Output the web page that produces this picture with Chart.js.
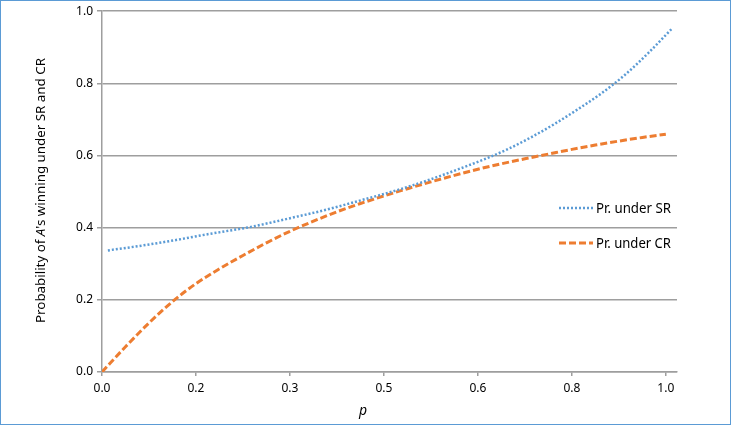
<!DOCTYPE html>
<html>
<head>
<meta charset="utf-8">
<script src="https://cdn.jsdelivr.net/npm/chart.js@4"></script>
<style>
  html, body { margin: 0; padding: 0; background: #fff; }
  canvas { display: block; }
</style>
</head>
<body>
<canvas id="grafico" width="731" height="425"></canvas>
<script>
// valores
const pCR = [0, 0.04, 0.08, 0.12, 0.16, 0.20, 0.24, 0.28, 0.32, 0.36, 0.40, 0.44, 0.48,
  0.52, 0.56, 0.60, 0.64, 0.68, 0.72, 0.76, 0.80, 0.84, 0.88, 0.92, 0.96];
const prCR = [0, 0.070, 0.136, 0.195, 0.245, 0.286, 0.323, 0.358, 0.390, 0.418, 0.444, 0.467, 0.488,
  0.508, 0.527, 0.545, 0.562, 0.577, 0.591, 0.604, 0.617, 0.629, 0.640, 0.650, 0.659];

const pSR = [0.01, 0.05, 0.09, 0.13, 0.17, 0.21, 0.25, 0.29, 0.33, 0.37, 0.41, 0.45, 0.49,
  0.53, 0.57, 0.61, 0.65, 0.69, 0.73, 0.77, 0.81, 0.85, 0.89, 0.93, 0.97];
const prSR = [0.337, 0.346, 0.356, 0.367, 0.379, 0.390, 0.401, 0.415, 0.430, 0.445, 0.462, 0.480, 0.498,
  0.518, 0.540, 0.564, 0.589, 0.617, 0.650, 0.687, 0.728, 0.772, 0.823, 0.884, 0.951];

const xTickValues = [0, 0.16, 0.32, 0.48, 0.64, 0.80, 0.96];
const xTickLabels = ['0.0', '0.2', '0.3', '0.5', '0.6', '0.8', '1.0'];

const seriesNames = ['Pr. under SR', 'Pr. under CR'];
const corAzul = '#5b9bd5';
const corLaranja = '#ed7d31';
const corGrade = '#9e9e9e';
const fonte = "'Noto Sans', 'DejaVu Sans', sans-serif";

// desenha texto comprimido horizontalmente até a largura pedida
function textoAjustado(ctx, partes, x, y, largura, align) {
  let total = 0;
  partes.forEach(p => { ctx.font = p.font; total += ctx.measureText(p.t).width; });
  const s = largura / total;
  ctx.save();
  ctx.translate(x, y);
  ctx.scale(s, 1);
  let cx = align === 'center' ? -total / 2 : 0;
  partes.forEach(p => {
    ctx.font = p.font;
    ctx.fillText(p.t, cx, 0);
    cx += ctx.measureText(p.t).width;
  });
  ctx.restore();
}

const extras = {
  id: 'extras',
  afterDraw(chart) {
    const ctx = chart.ctx;
    ctx.save();
    ctx.fillStyle = '#000';
    ctx.textBaseline = 'alphabetic';

    // título do eixo y
    ctx.save();
    ctx.translate(45, 190.5);
    ctx.rotate(-Math.PI / 2);
    textoAjustado(ctx, [
      { t: 'Probability of ', font: '13px ' + fonte },
      { t: 'A', font: 'italic 13px ' + fonte },
      { t: "'s winning under SR and CR", font: '13px ' + fonte }
    ], 0, 0, 265, 'center');
    ctx.restore();

    // título do eixo x
    ctx.font = 'italic 14px ' + fonte;
    ctx.textAlign = 'center';
    ctx.fillText('p', 363, 415);
    ctx.textAlign = 'left';

    // legenda
    const itens = [
      { nome: seriesNames[0], cor: corAzul, dash: [2, 2], w: 2.5, y: 208 },
      { nome: seriesNames[1], cor: corLaranja, dash: [7, 3], w: 3, y: 243 }
    ];
    itens.forEach(it => {
      ctx.save();
      ctx.strokeStyle = it.cor;
      ctx.lineWidth = it.w;
      ctx.setLineDash(it.dash);
      ctx.beginPath();
      ctx.moveTo(559, it.y);
      ctx.lineTo(593, it.y);
      ctx.stroke();
      ctx.restore();
      textoAjustado(ctx, [{ t: it.nome, font: '14px ' + fonte }], 596, it.y + 5, 75, 'left');
    });

    // moldura
    ctx.strokeStyle = corAzul;
    ctx.lineWidth = 1;
    ctx.strokeRect(0.5, 0.5, 730, 424);
    ctx.restore();
  }
};

const ctx = document.getElementById('grafico').getContext('2d');

new Chart(ctx, {
  type: 'line',
  data: {
    datasets: [
      {
        label: seriesNames[0],
        data: pSR.map((p, i) => ({ x: p, y: prSR[i] })),
        borderColor: corAzul,
        borderWidth: 2.5,
        borderDash: [2, 2],
        pointRadius: 0,
        cubicInterpolationMode: 'monotone',
        fill: false
      },
      {
        label: seriesNames[1],
        data: pCR.map((p, i) => ({ x: p, y: prCR[i] })),
        borderColor: corLaranja,
        borderWidth: 3,
        borderDash: [7, 3],
        pointRadius: 0,
        cubicInterpolationMode: 'monotone',
        fill: false
      }
    ]
  },
  options: {
    responsive: false,
    animation: false,
    layout: { padding: { top: 10, right: 54, left: 0, bottom: 0 } },
    plugins: { legend: { display: false }, tooltip: { enabled: false } },
    scales: {
      x: {
        type: 'linear',
        min: 0,
        max: 0.979,
        afterBuildTicks: scale => { scale.ticks = xTickValues.map(v => ({ value: v })); },
        afterFit: scale => { scale.height = 53; },
        ticks: {
          autoSkip: false,
          maxRotation: 0,
          padding: 5,
          color: '#000',
          font: { family: fonte, size: 12 },
          callback: (v, i) => xTickLabels[i]
        },
        grid: { drawOnChartArea: false, drawTicks: true, tickLength: 4, color: corGrade, lineWidth: 1.5 },
        border: { color: corGrade, width: 1.5 }
      },
      y: {
        min: 0,
        max: 1,
        afterFit: scale => { scale.width = 102; },
        ticks: {
          stepSize: 0.2,
          padding: 4,
          color: '#000',
          font: { family: fonte, size: 12 },
          callback: v => v.toFixed(1)
        },
        grid: { color: corGrade, lineWidth: 1.5, tickLength: 5 },
        border: { color: corGrade, width: 1.5 }
      }
    }
  },
  plugins: [extras]
});
</script>
</body>
</html>
